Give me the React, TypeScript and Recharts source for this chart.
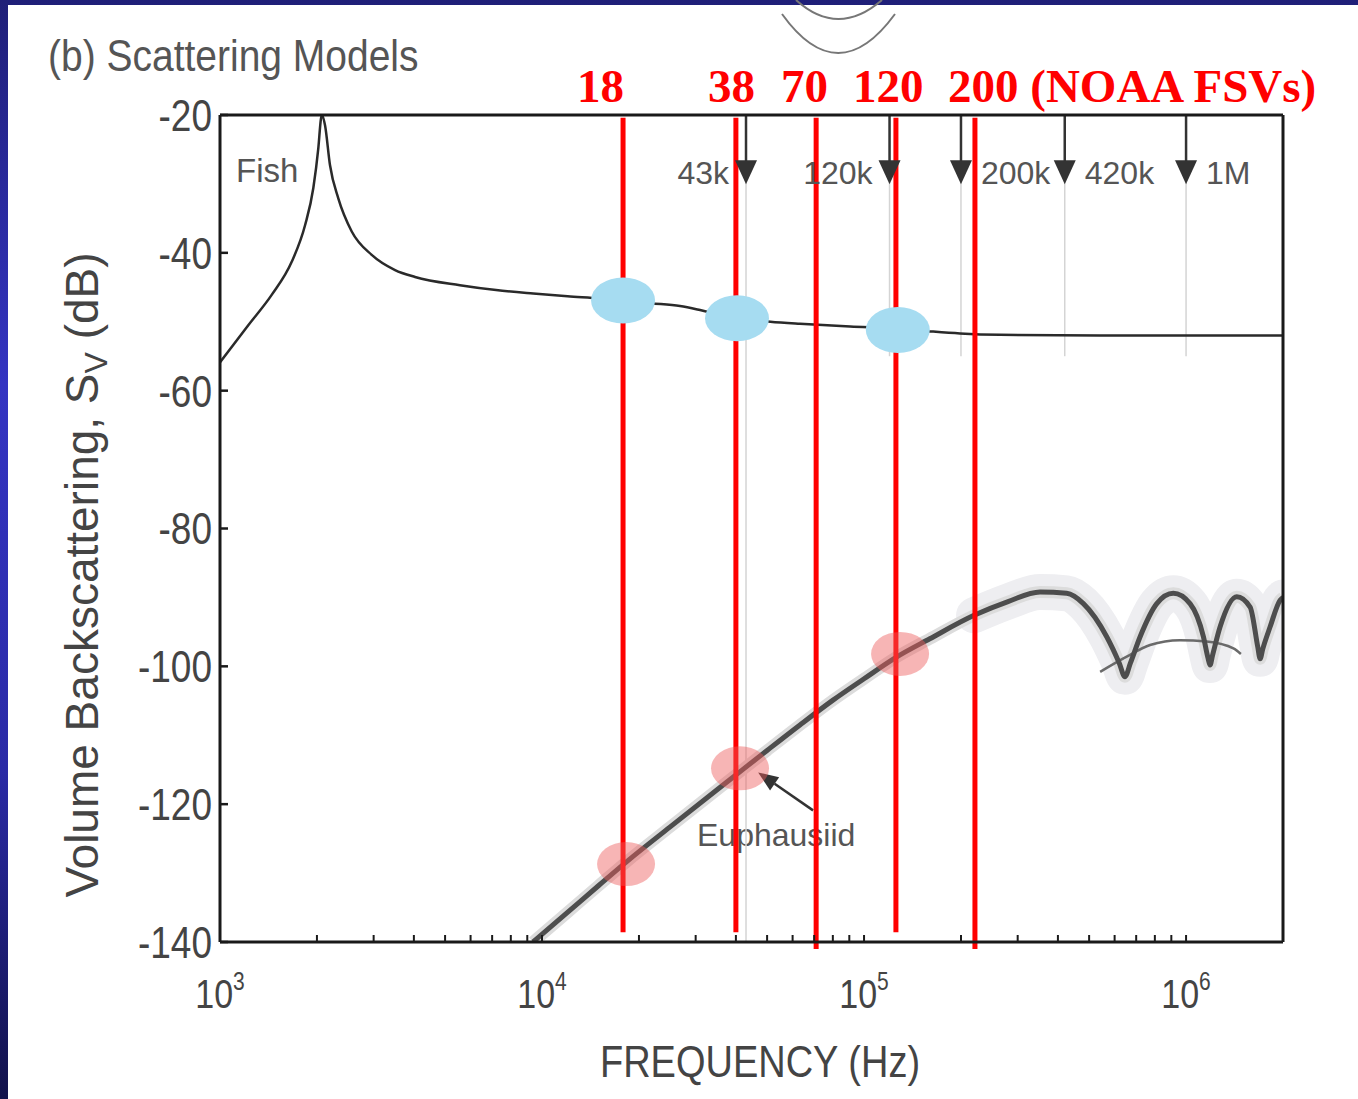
import React from "react";
import {
  Label,
  Line,
  LineChart,
  ReferenceDot,
  ReferenceLine,
  Scatter,
  XAxis,
  YAxis,
} from "recharts";

const SANS = "'Liberation Sans', Arial, Helvetica, sans-serif";
const SERIF = "'Liberation Serif', 'Times New Roman', serif";

// axis ticks
const FREQ_DECADES = [1e3, 1e4, 1e5, 1e6];
const MINOR_STEPS = [2, 3, 4, 5, 6, 7, 8, 9];
const SV_TICKS = [-140, -120, -100, -80, -60, -40, -20];

// fish scattering model (Hz, dB)
const fishFreq = [
  1000, 1224, 1447, 1670, 1837, 1949, 2020, 2059, 2072, 2119, 2196, 2330,
  2565, 2959, 3496, 4033, 5559, 7200, 9387, 12000, 15130, 17850, 21700, 26830,
  30950, 35700, 40320, 51170, 63240, 90500, 126600, 160600, 198600, 264500,
  540000, 1000000, 2000000,
];
const fishSv = [
  -55.9, -50.5, -46.1, -41.3, -36.0, -30.6, -24.8, -20.5, -20.0, -21.5,
  -27.3, -32.1, -36.9, -40.3, -42.5, -43.5, -44.7, -45.4, -45.9, -46.3, -46.6,
  -46.9, -47.3, -47.7, -48.3, -49.0, -49.5, -50.0, -50.3, -50.7, -51.0, -51.4,
  -51.7, -51.9, -52.0, -52.0, -52.0,
];

// euphausiid scattering model
const euphFreq = [
  9380, 12000, 15000, 18370, 25000, 39170, 50000, 63240, 80100, 100000, 125700,
  160000, 219600, 280000, 352000, 426000, 480000, 567000, 620000, 646000,
  672000, 720000, 811000, 913000, 1029000, 1132000, 1170000, 1187000, 1210000,
  1275000, 1437000, 1581000, 1670000, 1698000, 1730000, 1823000, 1959000,
  2000000,
];
const euphSv = [
  -140, -135.7, -131.8, -128.3, -123.3, -116.1, -112.2, -108.5, -104.9, -101.8,
  -98.7, -96.0, -92.6, -90.6, -89.2, -89.4, -90.9, -95.7, -99.5, -101.5, -99.5,
  -95.7, -90.9, -89.4, -90.9, -95.7, -98.8, -99.8, -98.3, -94.3, -89.9, -91.4,
  -97.2, -98.9, -97.5, -94.3, -90.4, -90.0,
];

// averaged euphausiid curve in the resonance region
const meanFreq = [541000, 654000, 773000, 957000, 1159000, 1403000, 1480000];
const meanSv = [-100.8, -98.6, -96.9, -96.2, -96.4, -97.4, -98.2];

// NOAA FSV frequencies (red lines, as drawn)
const bandFreq = [17850, 40000, 71000, 125600, 221000];
const bandBottom = [-138.6, -138.6, -141, -138.6, -141];
const bandLabels = ["18", "38", "70", "120", "200 (NOAA FSVs)"];

// arrowed frequencies at top
const arrowFreq = [43000, 120000, 200000, 420000, 1000000];
const arrowLabels = ["43k", "120k", "200k", "420k", "1M"];
const arrowSide: ("left" | "right")[] = ["left", "left", "right", "right", "right"];

// highlighted points
const fishMarkFreq = [17850, 40320, 127300];
const fishMarkSv = [-46.9, -49.5, -51.2];
const euphMarkFreq = [18240, 41200, 129400];
const euphMarkSv = [-128.7, -114.8, -98.2];

const fishData = fishFreq.map((f, i) => ({ f, sv: fishSv[i] }));
const euphData = euphFreq.map((f, i) => ({ f, sv: euphSv[i] }));
const euphPatch = euphData.filter((d) => d.f >= 170000);
const meanData = meanFreq.map((f, i) => ({ f, sv: meanSv[i] }));
const fishMarks = fishMarkFreq.map((f, i) => ({ f, sv: fishMarkSv[i] }));
const euphMarks = euphMarkFreq.map((f, i) => ({ f, sv: euphMarkSv[i] }));

const freqTicks = [
  ...FREQ_DECADES,
  ...FREQ_DECADES.flatMap((d) => MINOR_STEPS.map((m) => d * m)).filter((v) => v <= 2e6),
].sort((a, b) => a - b);

function FreqTick({ x, y, payload }: any) {
  const v = payload.value;
  const exp = Math.round(Math.log10(v));
  if (Math.abs(Math.pow(10, exp) - v) > v * 1e-6) return <g />;
  return (
    <g transform={`translate(${x},${y}) scale(1,1.2)`}>
      <text textAnchor="middle" fontSize={34} fill="#444" fontFamily={SANS}>
        <tspan>10</tspan>
        <tspan dy={-15} fontSize={21}>
          {exp}
        </tspan>
      </text>
    </g>
  );
}

function SvTick({ x, y, payload }: any) {
  return (
    <g transform={`translate(${x},${y}) scale(1,1.2)`}>
      <text textAnchor="end" dy="0.36em" fontSize={37} fill="#444" fontFamily={SANS}>
        {payload.value}
      </text>
    </g>
  );
}

function Triangle({ cx, cy }: any) {
  return (
    <polygon
      points={`${cx - 11},${cy - 12} ${cx + 11},${cy - 12} ${cx},${cy + 12}`}
      fill="#333"
    />
  );
}

function Arrow({ x1, y1, x2, y2 }: any) {
  const ang = Math.atan2(y2 - y1, x2 - x1);
  const len = 20;
  const w = 8;
  const bx = x2 - len * Math.cos(ang);
  const by = y2 - len * Math.sin(ang);
  const px = -Math.sin(ang) * w;
  const py = Math.cos(ang) * w;
  return (
    <g>
      <line x1={x1} y1={y1} x2={bx} y2={by} stroke="#333" strokeWidth={2.5} />
      <polygon
        points={`${x2},${y2} ${bx + px},${by + py} ${bx - px},${by - py}`}
        fill="#333"
      />
    </g>
  );
}

export default function App() {
  return (
    <div
      style={{
        position: "absolute",
        left: 0,
        top: 0,
        width: 1358,
        height: 1099,
        background:
          "linear-gradient(180deg, #1f1f78 0%, #3434c2 35%, #2a2aa6 70%, #12124a 100%)",
        overflow: "hidden",
      }}
    >
      <div
        style={{
          position: "absolute",
          left: 8,
          top: 5,
          width: 1350,
          height: 1094,
          background: "#ffffff",
        }}
      />
      <svg
        width={1358}
        height={1099}
        style={{ position: "absolute", left: 0, top: 0, fontFamily: SANS }}
      >
        <path d="M 782 14 Q 838 92 895 14" fill="none" stroke="#777" strokeWidth={2} />
        <path d="M 796 0 Q 838 38 882 0" fill="none" stroke="#777" strokeWidth={2} />
        <text transform="translate(48,71) scale(1,1.12)" fontSize={39} fill="#555">
          (b) Scattering Models
        </text>
        <text
          transform="translate(98,575) rotate(-90)"
          textAnchor="middle"
          fontSize={46}
          fill="#444"
        >
          Volume Backscattering, S
          <tspan fontSize={32} dy={9}>
            V
          </tspan>
          <tspan dy={-9}> (dB)</tspan>
        </text>
        <text
          transform="translate(760,1077) scale(1,1.15)"
          textAnchor="middle"
          fontSize={38}
          fill="#444"
        >
          FREQUENCY (Hz)
        </text>
        <text x={236} y={182} fontSize={33} fill="#555">
          Fish
        </text>
        <text x={697} y={846} fontSize={32} fill="#555">
          Euphausiid
        </text>
        {bandLabels.map((t, i) => (
          <text
            key={t}
            x={[577, 708, 781, 853, 948][i]}
            y={102}
            fontFamily={SERIF}
            fontWeight="bold"
            fontSize={47}
            fill="#ff0000"
          >
            {t}
          </text>
        ))}
      </svg>
      <div style={{ position: "absolute", left: 0, top: 0 }}>
        <LineChart
          width={1358}
          height={1099}
          margin={{ top: 114, right: 74, bottom: 96, left: 100 }}
          style={{ fontFamily: SANS }}
        >
          <XAxis
            dataKey="f"
            type="number"
            scale="log"
            domain={[1000, 2000000]}
            allowDataOverflow
            ticks={freqTicks}
            interval={0}
            height={61}
            tickSize={-7}
            tickMargin={73}
            tick={<FreqTick />}
            axisLine={{ stroke: "#1a1a1a", strokeWidth: 3 }}
            tickLine={{ stroke: "#1a1a1a", strokeWidth: 2 }}
          />
          <XAxis
            xAxisId="top"
            orientation="top"
            dataKey="f"
            type="number"
            scale="log"
            domain={[1000, 2000000]}
            allowDataOverflow
            ticks={freqTicks}
            interval={0}
            height={1}
            tickSize={-7}
            tick={false}
            axisLine={{ stroke: "#1a1a1a", strokeWidth: 3 }}
            tickLine={{ stroke: "#1a1a1a", strokeWidth: 2 }}
          />
          <YAxis
            dataKey="sv"
            type="number"
            domain={[-140, -20]}
            allowDataOverflow
            ticks={SV_TICKS}
            interval={0}
            width={120}
            tickSize={-8}
            tickMargin={16}
            tick={<SvTick />}
            axisLine={{ stroke: "#1a1a1a", strokeWidth: 3 }}
            tickLine={{ stroke: "#1a1a1a", strokeWidth: 2.5 }}
          />
          <YAxis
            yAxisId="right"
            orientation="right"
            type="number"
            domain={[-140, -20]}
            allowDataOverflow
            ticks={SV_TICKS}
            interval={0}
            width={1}
            tickSize={-8}
            tick={false}
            axisLine={{ stroke: "#1a1a1a", strokeWidth: 3 }}
            tickLine={{ stroke: "#1a1a1a", strokeWidth: 2.5 }}
          />

          <ReferenceLine
            segment={[
              { x: arrowFreq[0], y: -27 },
              { x: arrowFreq[0], y: -140 },
            ]}
            stroke="#d4d4d4"
            strokeWidth={1.5}
          />
          {arrowFreq.slice(1).map((f) => (
            <ReferenceLine
              key={`g${f}`}
              segment={[
                { x: f, y: -27 },
                { x: f, y: -55 },
              ]}
              stroke="#d4d4d4"
              strokeWidth={1.5}
            />
          ))}

          <Line
            data={euphPatch}
            dataKey="sv"
            type="monotone"
            stroke="#eeeef1"
            strokeWidth={36}
            strokeLinejoin="round"
            strokeLinecap="round"
            dot={false}
            activeDot={false}
            isAnimationActive={false}
          />
          <Line
            data={euphData}
            dataKey="sv"
            type="monotone"
            stroke="#dcdcdc"
            strokeWidth={12}
            dot={false}
            activeDot={false}
            isAnimationActive={false}
          />
          <Line
            data={meanData}
            dataKey="sv"
            type="monotone"
            stroke="#6a6a6a"
            strokeWidth={2.5}
            dot={false}
            activeDot={false}
            isAnimationActive={false}
          />
          <Line
            data={euphData}
            dataKey="sv"
            type="monotone"
            stroke="#4d4d4d"
            strokeWidth={5}
            dot={false}
            activeDot={false}
            isAnimationActive={false}
          />
          <Scatter
            data={fishMarks}
            dataKey="sv"
            isAnimationActive={false}
            shape={(p: any) => (
              <ellipse cx={p.cx} cy={p.cy} rx={32} ry={23} fill="#a6dcf1" />
            )}
          />
          <Line
            data={fishData}
            dataKey="sv"
            type="monotone"
            stroke="#2a2a2a"
            strokeWidth={2.5}
            dot={false}
            activeDot={false}
            isAnimationActive={false}
          />
          <Scatter
            data={euphMarks}
            dataKey="sv"
            isAnimationActive={false}
            shape={(p: any) => (
              <ellipse
                cx={p.cx}
                cy={p.cy}
                rx={29}
                ry={22}
                fill="#ee5a5a"
                fillOpacity={0.45}
              />
            )}
          />

          {arrowFreq.map((f) => (
            <ReferenceLine
              key={`s${f}`}
              segment={[
                { x: f, y: -20 },
                { x: f, y: -27 },
              ]}
              stroke="#333"
              strokeWidth={2.5}
            />
          ))}
          {arrowFreq.map((f, i) => (
            <ReferenceDot
              key={`t${f}`}
              x={f}
              y={-28.3}
              r={11}
              shape={<Triangle />}
              ifOverflow="visible"
            >
              <Label
                value={arrowLabels[i]}
                position={arrowSide[i]}
                offset={arrowSide[i] === "left" ? 6 : 9}
                fontSize={32}
                fill="#555"
                fontFamily={SANS}
              />
            </ReferenceDot>
          ))}

          <ReferenceLine
            segment={[
              { x: 69450, y: -120.9 },
              { x: 46900, y: -115.4 },
            ]}
            shape={<Arrow />}
          />

          {bandFreq.map((f, i) => (
            <ReferenceLine
              key={`r${f}`}
              segment={[
                { x: f, y: -20.4 },
                { x: f, y: bandBottom[i] },
              ]}
              stroke="#ff0000"
              strokeWidth={5}
              ifOverflow="visible"
            />
          ))}
        </LineChart>
      </div>
    </div>
  );
}
